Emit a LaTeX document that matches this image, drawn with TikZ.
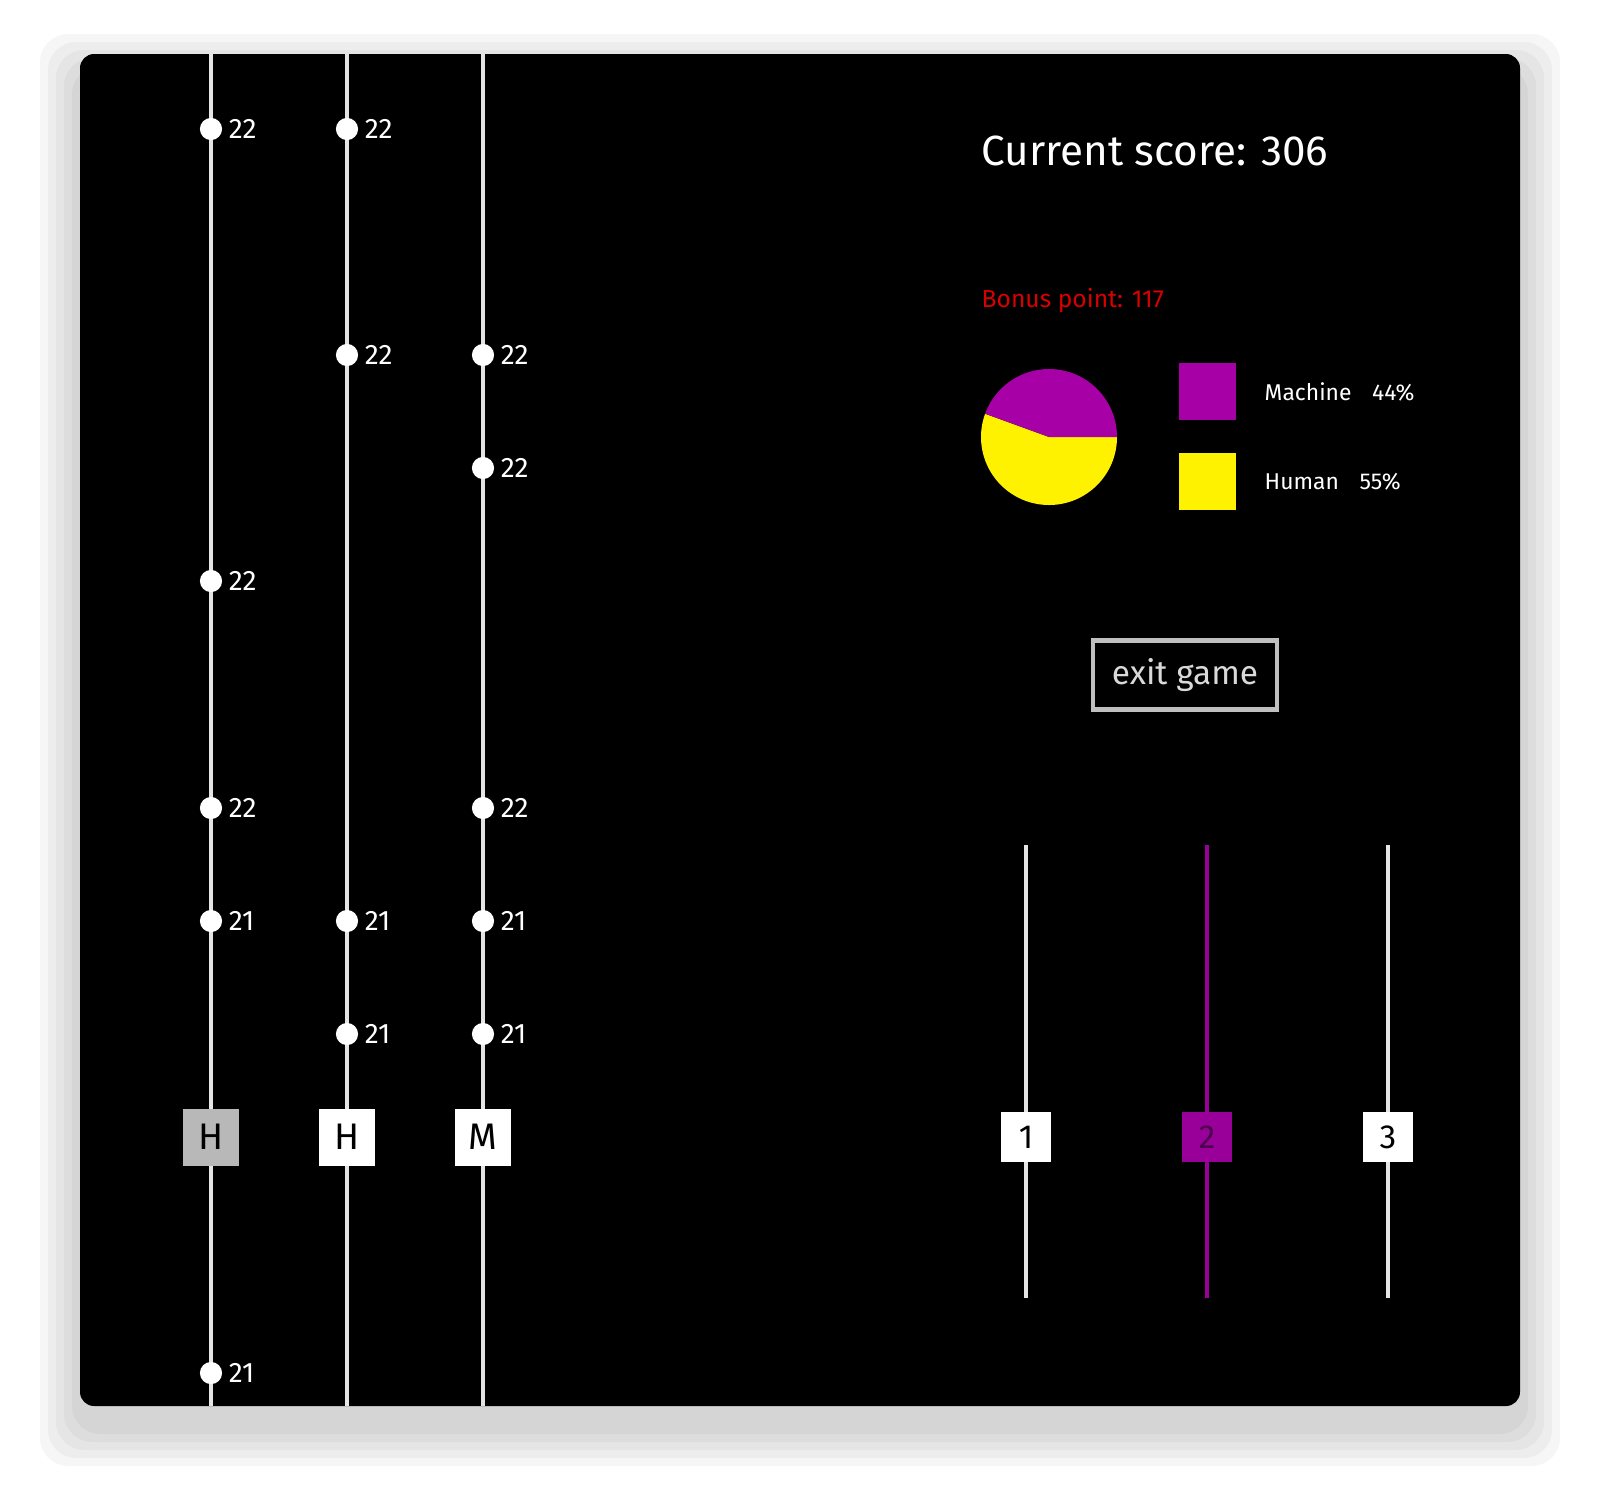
\documentclass[tikz,border=0pt]{standalone}
\usepackage{fontspec}
\setmainfont{Fira Sans}
\begin{document}
\begin{tikzpicture}[x=0.01cm,y=-0.01cm,
            dotnode/.style={circle,fill=white,inner sep=0pt,minimum size=6.3pt},
            numlabel/.style={right,text=white,font=\fontsize{8}{10}\selectfont,inner sep=1.5pt},
            lanebox/.style={draw=none,fill=white,minimum size=16.2pt,inner sep=0pt,font=\fontsize{10.5}{12}\selectfont},
            slidebox/.style={fill=white,minimum size=14pt,inner sep=0pt,font=\fontsize{9.5}{12}\selectfont},
            track/.style={white!90!black,line width=1.2pt}
            ]
            \useasboundingbox (0,0) rectangle (1600,1511);
            % shadow and panel
            \foreach \s in {40,32,24,16,8}
            \fill[black,opacity=0.035,rounded corners=8pt] (80-\s,54-\s+20) rectangle (1520+\s,1406+\s+20);
            \fill[black,rounded corners=4pt] (80,54) rectangle (1520,1406);
            % lanes
            \foreach \x/\name in {211/a,347/b,483/c}
            \draw[track] (\x,54) -- (\x,1406);
            \foreach \x/\y/\v [count=\i] in {211/129/22,211/581/22,211/808/22,211/921/21,211/1373/21,
                                              347/129/22,347/355/22,347/921/21,347/1034/21,
                                              483/355/22,483/468/22,483/808/22,483/921/21,483/1034/21}
            \node[dotnode] (d\i) at (\x,\y) {} node[numlabel] at (d\i.east) {\v};
            \node[lanebox,fill=white!72!black] (ha) at (211,1137) {H};
            \node[lanebox] (hb) at (347,1137) {H};
            \node[lanebox] (mc) at (483,1137) {M};
            % score
            \node[anchor=west,text=white,font=\fontsize{12}{14}\selectfont,inner sep=0pt] (score) at (981,151) {Current score: 306};
            \node[anchor=west,text=red!85!black,font=\fontsize{7}{9}\selectfont,inner sep=0pt] (bonus) at (981,301) {Bonus point: 117};
            % pie
            \coordinate (pc) at (1049,437);
            \fill[yellow] (pc) -- ++(0:68) arc[start angle=0,end angle=200,radius=68] -- cycle;
            \fill[violet!70!magenta] (pc) -- ++(0:68) arc[start angle=0,end angle=-160,radius=68] -- cycle;
            \node[fill=violet!70!magenta,minimum size=16.2pt,inner sep=0pt] (mk) at (1207,391) {};
            \node[fill=yellow,minimum size=16.2pt,inner sep=0pt] (hk) at (1207,481) {};
            \node[anchor=west,text=white,font=\fontsize{6.5}{8}\selectfont,inner sep=0pt] (ml) at (1264,392) {Machine\hspace{0.9em}44\%};
            \node[anchor=west,text=white,font=\fontsize{6.5}{8}\selectfont,inner sep=0pt] (hl) at (1264,482) {Human\hspace{0.9em}55\%};
            % exit
            \node[draw=white!75!black,line width=1.2pt,text=white!85!black,minimum width=52.3pt,minimum height=19.6pt,
                  inner sep=0pt,font=\fontsize{9.5}{11}\selectfont] (exit) at (1185,675) {exit game};
            % sliders
            \draw[track] (1026,845) -- (1026,1298);
            \draw[violet!80!magenta,line width=1.2pt] (1207,845) -- (1207,1298);
            \draw[track] (1388,845) -- (1388,1298);
            \node[slidebox] (s1) at (1026,1137) {1};
            \node[slidebox,fill=violet!80!magenta,text=violet!60!black] (s2) at (1207,1137) {2};
            \node[slidebox] (s3) at (1388,1137) {3};
\end{tikzpicture}
\end{document}
